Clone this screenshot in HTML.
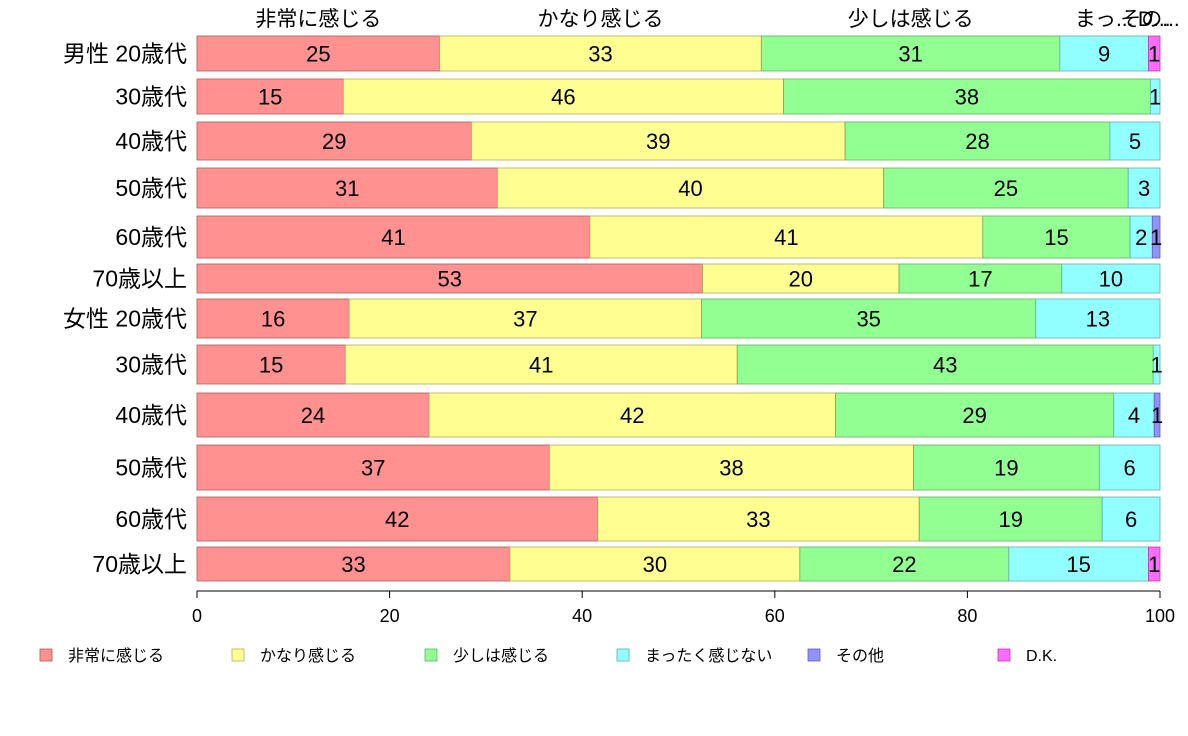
<!DOCTYPE html>
<html><head><meta charset="utf-8">
<style>
body{margin:0;background:#fff;}
svg{display:block;font-family:"Liberation Sans","Noto Sans CJK JP",sans-serif;}
</style></head>
<body>
<svg id="chart" width="1188" height="736" viewBox="0 0 1188 736"></svg>
<script>
const categories=["男性 20歳代","30歳代","40歳代","50歳代","60歳代","70歳以上","女性 20歳代","30歳代","40歳代","50歳代","60歳代","70歳以上"];
const seriesNames=["非常に感じる","かなり感じる","少しは感じる","まったく感じない","その他","D.K."];
const s1=[25.2,15.2,28.5,31.2,40.8,52.5,15.8,15.4,24.1,36.6,41.6,32.5];
const s2=[33.4,45.7,38.8,40.1,40.8,20.4,36.6,40.7,42.2,37.8,33.4,30.1];
const s3=[31.0,38.1,27.5,25.4,15.3,16.9,34.7,43.2,28.9,19.3,19.0,21.7];
const s4=[9.2,1.0,5.2,3.3,2.3,10.2,12.9,0.7,4.2,6.3,6.0,14.5];
const s5=[0,0,0,0,0.8,0,0,0,0.6,0,0,0];
const s6=[1.2,0,0,0,0,0,0,0,0,0,0,1.2];
const ticks=[0,20,40,60,80,100];
const topHeaders=["非常に感じる","かなり感じる","少しは感じる","まっ...","その...","D..."];
const rowTops=[36,79,122,168,216,264,299,345,393,445,497,547];
const rowBottoms=[71,114,160,208,258,293,338,384,437,490,541,581];
const colors=["#ff9191","#ffff91","#91ff91","#91ffff","#9191ff","#ff6bff"];
const strokes=["#b05a5a","#b0b060","#60b060","#60b0b0","#6060b0","#b040b0"];
const series=[s1,s2,s3,s4,s5,s6];
const NS="http://www.w3.org/2000/svg";
const svg=document.getElementById('chart');
const x0=197,x1=1160;
function xs(v){return x0+(x1-x0)*v/100;}
function mk(tag,attrs,text){const e=document.createElementNS(NS,tag);for(const k in attrs)e.setAttribute(k,attrs[k]);if(text!==undefined)e.textContent=text;svg.appendChild(e);return e;}
categories.forEach((c,i)=>{
  let acc=0;
  const y=rowTops[i],h=rowBottoms[i]-rowTops[i];
  series.forEach((s,j)=>{
    const v=s[i];
    if(v>0){
      const r=mk('rect',{x:xs(acc),y:y,width:xs(acc+v)-xs(acc),height:h,fill:colors[j],stroke:strokes[j],'stroke-width':0.8});
      
      
      const lbl=Math.max(1,Math.round(v));
      const t=mk('text',{x:(xs(acc)+xs(acc+v))/2,y:y+h/2+8,'text-anchor':'middle','font-size':22,fill:'#000'},lbl);
      
      
    }
    acc+=v;
  });
  const cl=mk('text',{x:187,y:y+h/2+8,'text-anchor':'end','font-size':23,fill:'#000'},c);
  
  
});
// top headers from first row
{
  let acc=0;
  series.forEach((s,j)=>{
    const v=s[0];
    let cx=(xs(acc)+xs(acc+v))/2;
    if(j===4)cx=1150;
    const t=mk('text',{x:cx,y:26,'text-anchor':'middle','font-size':21,fill:'#000'},topHeaders[j]);
    
    
    acc+=v;
  });
}
// x axis
const ax=mk('line',{x1:x0,y1:591,x2:x1,y2:591,stroke:'#000','stroke-width':1});


ticks.forEach(tv=>{
  const l=mk('line',{x1:xs(tv),y1:591,x2:xs(tv),y2:598,stroke:'#000'});
  
  
  const t=mk('text',{x:xs(tv),y:622,'text-anchor':'middle','font-size':18,fill:'#000'},tv);
  
  
});
// legend
const legX=[40,232,425,617,808,998];
seriesNames.forEach((n,j)=>{
  const r=mk('rect',{x:legX[j],y:649,width:12,height:12,fill:colors[j],stroke:strokes[j],'stroke-width':0.8});
  
  
  const t=mk('text',{x:legX[j]+28,y:661,'font-size':16,fill:'#000'},n);
  
  
});
</script>
</body></html>
